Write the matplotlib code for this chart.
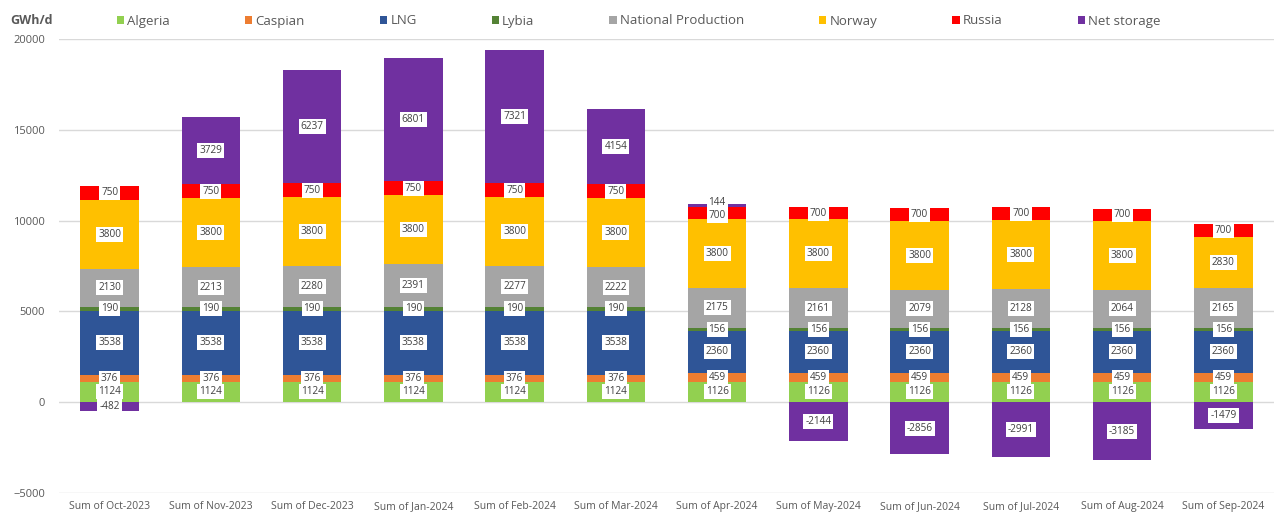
import matplotlib.pyplot as plt
from matplotlib.patches import Patch
import numpy as np

plt.rcParams['font.family'] = ['Open Sans', 'DejaVu Sans']

months = ['Sum of Oct-2023', 'Sum of Nov-2023', 'Sum of Dec-2023', 'Sum of Jan-2024',
          'Sum of Feb-2024', 'Sum of Mar-2024', 'Sum of Apr-2024', 'Sum of May-2024',
          'Sum of Jun-2024', 'Sum of Jul-2024', 'Sum of Aug-2024', 'Sum of Sep-2024']

algeria = [1124, 1124, 1124, 1124, 1124, 1124, 1126, 1126, 1126, 1126, 1126, 1126]
caspian = [376, 376, 376, 376, 376, 376, 459, 459, 459, 459, 459, 459]
lng = [3538, 3538, 3538, 3538, 3538, 3538, 2360, 2360, 2360, 2360, 2360, 2360]
lybia = [190, 190, 190, 190, 190, 190, 156, 156, 156, 156, 156, 156]
national = [2130, 2213, 2280, 2391, 2277, 2222, 2175, 2161, 2079, 2128, 2064, 2165]
norway = [3800, 3800, 3800, 3800, 3800, 3800, 3800, 3800, 3800, 3800, 3800, 2830]
russia = [750, 750, 750, 750, 750, 750, 700, 700, 700, 700, 700, 700]
storage = [-482, 3729, 6237, 6801, 7321, 4154, 144, -2144, -2856, -2991, -3185, -1479]

series = [
    ('Algeria', algeria, '#92D050'),
    ('Caspian', caspian, '#ED7D31'),
    ('LNG', lng, '#2F5597'),
    ('Lybia', lybia, '#548235'),
    ('National Production', national, '#A5A5A5'),
    ('Norway', norway, '#FFC000'),
    ('Russia', russia, '#FF0000'),
    ('Net storage', storage, '#7030A0'),
]

fig = plt.figure(figsize=(12.76, 5.13), dpi=100)
ax = fig.add_axes([59 / 1276, 20 / 513, 1215 / 1276, 454 / 513])

x = np.arange(len(months))
pos_base = np.zeros(len(months))
neg_base = np.zeros(len(months))
labels = [[] for _ in months]  # (y, text) per bar

for name, vals, color in series:
    vals = np.array(vals, dtype=float)
    bottom = np.where(vals >= 0, pos_base, neg_base)
    ax.bar(x, vals, 0.58, bottom=bottom, color=color, linewidth=0, zorder=2)
    for i, (b, v) in enumerate(zip(bottom, vals)):
        labels[i].append([b + v / 2, f'{int(v)}'])
    pos_base = np.where(vals >= 0, pos_base + vals, pos_base)
    neg_base = np.where(vals < 0, neg_base + vals, neg_base)

# spread labels that sit too close on the same bar
min_gap = 700
label_style = dict(ha='center', va='center', fontsize=7.2, color='#404040', zorder=4,
                   bbox=dict(boxstyle='square,pad=0.2', fc='white', ec='none'))
for i, labs in enumerate(labels):
    labs.sort(key=lambda t: t[0])
    for j in range(1, len(labs)):
        gap = labs[j][0] - labs[j - 1][0]
        if gap < min_gap:
            shift = (min_gap - gap) / 2
            labs[j - 1][0] -= shift
            labs[j][0] += shift
    for y, txt in labs:
        ax.text(x[i], y, txt, **label_style)

ax.set_xlim(-0.5, len(months) - 0.5)
ax.set_ylim(-5000, 20000)
ax.set_yticks(np.arange(-5000, 20001, 5000))
ax.set_xticks(x)
ax.set_xticklabels(months)
ax.tick_params(length=0, labelsize=7.5, labelcolor='#595959', pad=6)
ax.tick_params(axis='y', labelsize=8, pad=10)
ax.grid(axis='y', color='#D9D9D9', linewidth=1, zorder=0)
for s in ax.spines.values():
    s.set_visible(False)

fig.text(10 / 1276, 1 - 20 / 513, 'GWh/d', fontsize=9, fontweight='bold',
         color='#595959', va='center')

handles = [Patch(facecolor=c, edgecolor='none') for _, _, c in series]
fig.legend(handles, [n for n, _, _ in series], loc='center left',
           bbox_to_anchor=(110 / 1276, 1 - 21 / 513), ncol=8, frameon=False,
           fontsize=9.5, labelcolor='#595959', handlelength=0.55, handleheight=0.55,
           handletextpad=0.25, columnspacing=5.68, borderpad=0)

fig.savefig('out.png', dpi=100)
